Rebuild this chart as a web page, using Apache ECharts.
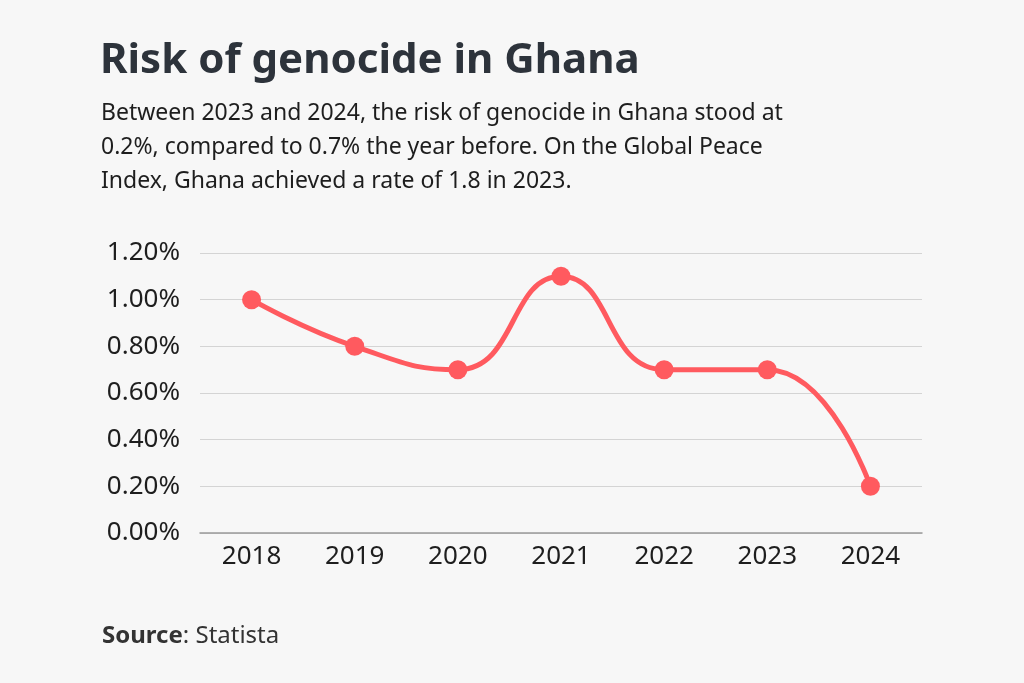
<!DOCTYPE html>
<html>
<head>
<meta charset="utf-8">
<script src="https://cdn.jsdelivr.net/npm/echarts@6/dist/echarts.min.js"></script>
<style>
html,body{margin:0;padding:0;background:#f7f7f7;}
#chart{width:1024px;height:683px;}
</style>
</head>
<body>
<div id="chart"></div>
<script>
const categories = ['2018','2019','2020','2021','2022','2023','2024'];
const riskValues = [1.0, 0.8, 0.7, 1.1, 0.7, 0.7, 0.2];
const yTicks = [0, 0.2, 0.4, 0.6, 0.8, 1.0, 1.2];
const titleText = 'Risk of genocide in Ghana';
const subtitleText = 'Between 2023 and 2024, the risk of genocide in Ghana stood at\n0.2%, compared to 0.7% the year before. On the Global Peace\nIndex, Ghana achieved a rate of 1.8 in 2023.';

const chart = echarts.init(document.getElementById('chart'));
const font = '"Noto Sans", "Open Sans", sans-serif';
chart.setOption({
  backgroundColor: '#f7f7f7',
  textStyle: { fontFamily: font },
  title: [{
    text: titleText,
    left: 95, top: 35,
    textStyle: { fontSize: 42, fontWeight: 'bold', color: '#2d333b', fontFamily: font }
  }, {
    text: subtitleText,
    left: 96, top: 91,
    textStyle: { fontSize: 23, fontWeight: 'normal', color: '#1e1e1e', lineHeight: 34, fontFamily: font }
  }, {
    text: '{b|Source}: Statista',
    left: 97, top: 619,
    textStyle: { fontSize: 24, fontWeight: 'normal', color: '#333', fontFamily: font,
      rich: { b: { fontSize: 24, fontWeight: 'bold', color: '#333', fontFamily: font } } }
  }],
  grid: { left: 200, right: 102, top: 253, bottom: 150 },
  xAxis: {
    type: 'category',
    data: categories,
    boundaryGap: true,
    axisLine: { show: true, lineStyle: { color: '#9a9a9a', width: 1.5 } },
    axisTick: { show: false },
    axisLabel: { fontSize: 26, color: '#1e1e1e', margin: 11, fontFamily: font }
  },
  yAxis: {
    type: 'value',
    min: yTicks[0], max: yTicks[yTicks.length - 1], interval: 0.2,
    axisLine: { show: false },
    axisTick: { show: false },
    splitLine: { lineStyle: { color: '#d4d4d4', width: 1.2 } },
    axisLabel: {
      fontSize: 26, color: '#1e1e1e', margin: 20, fontFamily: font,
      formatter: v => v.toFixed(2) + '%'
    }
  },
  series: [{
    type: 'line',
    data: riskValues,
    smooth: 0.5,
    symbol: 'circle',
    symbolSize: 19,
    lineStyle: { color: '#ff5a5f', width: 5 },
    itemStyle: { color: '#ff5a5f' },
    animation: false
  }]
});
</script>
</body>
</html>
